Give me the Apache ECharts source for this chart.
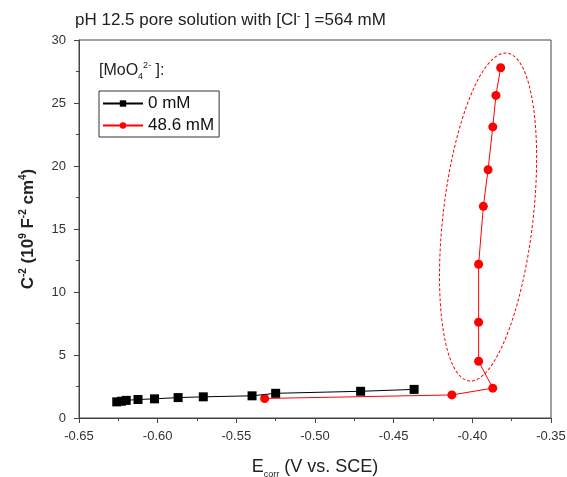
<!DOCTYPE html>
<html>
<head>
<meta charset="utf-8">
<script src="https://cdn.jsdelivr.net/npm/echarts@6/dist/echarts.min.js"></script>
<style>
  html, body { margin: 0; padding: 0; background: #fff; }
  #chart { width: 567px; height: 477px; }
</style>
</head>
<body>
<div id="chart"></div>
<script>
// E_corr (V vs. SCE) and C^-2 values
var ecorr0 = [-0.626, -0.623, -0.620, -0.6125, -0.602, -0.587, -0.571, -0.540, -0.525, -0.471, -0.437];
var csq0 = [1.28, 1.33, 1.40, 1.47, 1.52, 1.62, 1.68, 1.76, 1.96, 2.12, 2.27];
var ecorr486 = [-0.532, -0.413, -0.387, -0.396, -0.396, -0.396, -0.393, -0.390, -0.387, -0.385, -0.382];
var csq486 = [1.55, 1.83, 2.37, 4.5, 7.6, 12.2, 16.8, 19.7, 23.1, 25.6, 27.8];
var xTicks = [-0.65, -0.60, -0.55, -0.50, -0.45, -0.40, -0.35];
var yTicks = [0, 5, 10, 15, 20, 25, 30];

// dashed ellipse round the 48.6 mM rising branch (centre in data units)
var ellipseCenter = [-0.390, 15.95];

function pairs(xs, ys) {
  return xs.map(function (x, i) { return [x, ys[i]]; });
}

var myChart = echarts.init(document.getElementById('chart'));
var font = 'Liberation Sans, Arial, sans-serif';

myChart.setOption({
  animation: false,
  textStyle: { fontFamily: font },
  grid: {
    left: 79, right: 16, top: 40, bottom: 59,
    outerBoundsMode: 'none',
    containLabel: false,
    show: true,
    borderColor: '#444',
    borderWidth: 1
  },
  legend: {
    left: 99, top: 91,
    orient: 'vertical',
    itemWidth: 40, itemHeight: 8,
    itemGap: 5,
    padding: [4, 5, 3, 3],
    borderColor: '#333', borderWidth: 1,
    textStyle: { fontSize: 17, color: '#111', fontFamily: font },
    data: ['0 mM', '48.6 mM']
  },
  xAxis: {
    type: 'value',
    min: xTicks[0], max: xTicks[xTicks.length - 1],
    interval: 0.05,
    name: '{b|E}{s|corr}{b| (V vs. SCE)}',
    nameLocation: 'middle',
    nameGap: 38,
    nameTextStyle: {
      rich: {
        b: { fontSize: 18, color: '#222', fontFamily: font },
        s: { fontSize: 9, color: '#222', fontFamily: font, verticalAlign: 'bottom', padding: [14, 0, 0, 0] }
      }
    },
    axisLine: { lineStyle: { color: '#444' } },
    axisTick: { length: 5, lineStyle: { color: '#444' } },
    minorTick: { show: true, splitNumber: 2, length: 3, lineStyle: { color: '#444' } },
    splitLine: { show: false },
    axisLabel: {
      color: '#333', fontSize: 13, margin: 12,
      formatter: function (v) { return v.toFixed(2); }
    }
  },
  yAxis: {
    type: 'value',
    min: yTicks[0], max: yTicks[yTicks.length - 1],
    interval: 5,
    name: '{b|C}{u|-2}{b| (10}{u|9}{b| F}{u|-2}{b| cm}{u|4}{b|)}',
    nameLocation: 'middle',
    nameGap: 40,
    nameTextStyle: {
      rich: {
        b: { fontSize: 17, fontWeight: 'bold', color: '#222', fontFamily: font },
        u: { fontSize: 10, fontWeight: 'bold', color: '#222', fontFamily: font, verticalAlign: 'top', padding: [0, 0, 11, 0] }
      }
    },
    axisLine: { show: true, lineStyle: { color: '#444' } },
    axisTick: { show: true, length: 5, lineStyle: { color: '#444' } },
    minorTick: { show: true, splitNumber: 2, length: 3, lineStyle: { color: '#444' } },
    splitLine: { show: false },
    axisLabel: { color: '#333', fontSize: 13, margin: 13 }
  },
  graphic: [
    {
      type: 'text', left: 75, top: 11,
      style: {
        text: '{a|pH 12.5 pore solution with [Cl}{u|-}{a| ] =564 mM}',
        rich: {
          a: { fontSize: 17, fill: '#222', fontFamily: font },
          u: { fontSize: 10, fill: '#222', fontFamily: font, verticalAlign: 'top', padding: [0, 0, 9, 0] }
        }
      }
    },
    {
      type: 'text', left: 99, top: 61,
      style: {
        text: '{a|[MoO}{d|4}{u|2-}{a| ]:}',
        rich: {
          a: { fontSize: 16, fill: '#222', fontFamily: font },
          d: { fontSize: 9, fill: '#222', fontFamily: font, verticalAlign: 'bottom', padding: [11, 0, 0, 0] },
          u: { fontSize: 9, fill: '#222', fontFamily: font, verticalAlign: 'top', padding: [0, 0, 11, 0] }
        }
      }
    }
  ],
  series: [
    {
      name: '0 mM',
      type: 'line',
      data: pairs(ecorr0, csq0),
      symbol: 'rect',
      symbolSize: 9,
      itemStyle: { color: '#000' },
      lineStyle: { color: '#000', width: 1 },
      z: 3
    },
    {
      name: '48.6 mM',
      type: 'line',
      data: pairs(ecorr486, csq486),
      symbol: 'circle',
      symbolSize: 9,
      itemStyle: { color: '#ff0000' },
      lineStyle: { color: '#ff0000', width: 1 },
      z: 2
    },
    {
      type: 'custom',
      data: [ellipseCenter],
      silent: true,
      z: 1,
      renderItem: function (params, api) {
        var c = api.coord([api.value(0), api.value(1)]);
        return {
          type: 'ellipse',
          x: c[0], y: c[1],
          rotation: -0.115,
          shape: { cx: 0, cy: 0, rx: 45, ry: 165 },
          style: { fill: 'none', stroke: '#ff0000', lineWidth: 1, lineDash: [3, 2] }
        };
      }
    }
  ]
});
</script>
</body>
</html>
